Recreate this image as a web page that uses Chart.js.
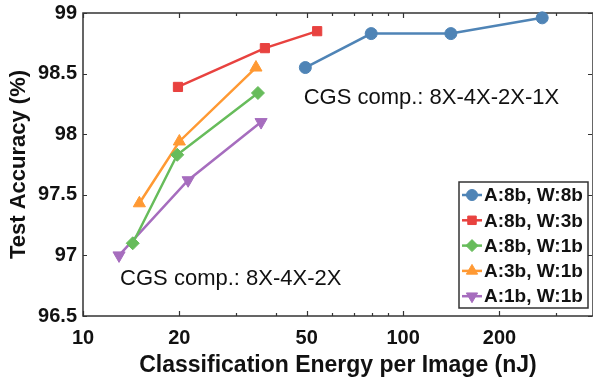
<!DOCTYPE html>
<html>
<head>
<meta charset="utf-8">
<script src="https://cdn.jsdelivr.net/npm/chart.js@4.4.1/dist/chart.umd.min.js"></script>
<style>
  html, body { margin: 0; padding: 0; background: #ffffff; }
  #wrap { width: 593px; height: 379px; position: relative; }
</style>
</head>
<body>
<div id="wrap"><canvas id="c" width="593" height="379"></canvas></div>
<script>
// ---- data ----
const seriesNames = ['A:8b, W:8b', 'A:8b, W:3b', 'A:8b, W:1b', 'A:3b, W:1b', 'A:1b, W:1b'];
const energyA8W8 = [49.5, 79.5, 141, 272];
const accA8W8    = [98.55, 98.83, 98.83, 98.96];
const energyA8W3 = [19.8, 37.0, 53.9];
const accA8W3    = [98.39, 98.71, 98.85];
const energyA8W1 = [14.3, 19.7, 35.2];
const accA8W1    = [97.10, 97.83, 98.34];
const energyA3W1 = [15.0, 20.0, 34.7];
const accA3W1    = [97.43, 97.94, 98.55];
const energyA1W1 = [12.96, 21.3, 36.0];
const accA1W1    = [97.00, 97.62, 98.10];

const xTickLabels = [10, 20, 50, 100, 200];
const xMinorTicks = [30, 40, 60, 70, 80, 90, 300];
const yTickLabels = [96.5, 97, 97.5, 98, 98.5, 99];
const xRange = [10, 392];
const yRange = [96.5, 99];

const annotationTexts = ['CGS comp.: 8X-4X-2X-1X', 'CGS comp.: 8X-4X-2X'];
const annotationAnchors = [[48.9, 98.25], [13.06, 96.755]]; // data coords (left, baseline)

const xTitle = 'Classification Energy per Image (nJ)';
const yTitle = 'Test Accuracy (%)';

// ---- styles ----
const colors = ['#4F84B6', '#E8423F', '#67BC5B', '#FF9933', '#A66DBE'];
const styles = ['circle', 'rect', 'rectRot', 'triangle', 'triangle'];
const rotations = [0, 0, 0, 0, 180];
const radii = [6, 6.5, 6.5, 7, 7];

const xs = [energyA8W8, energyA8W3, energyA8W1, energyA3W1, energyA1W1];
const ys = [accA8W8, accA8W3, accA8W1, accA3W1, accA1W1];

const datasets = seriesNames.map((name, i) => ({
  label: name,
  data: xs[i].map((x, j) => ({ x: x, y: ys[i][j] })),
  borderColor: colors[i],
  backgroundColor: colors[i],
  pointBackgroundColor: colors[i],
  pointBorderColor: colors[i],
  pointStyle: styles[i],
  pointRotation: rotations[i],
  pointRadius: radii[i],
  pointBorderWidth: 1,
  borderWidth: 2.5,
  tension: 0,
  clip: false
}));

const FONT = "'Liberation Sans', Arial, sans-serif";

function drawMarker(ctx, style, x, y, r, rot, color) {
  ctx.save();
  ctx.fillStyle = color;
  ctx.strokeStyle = color;
  ctx.lineWidth = 1;
  if (Chart.helpers && Chart.helpers.drawPoint) {
    Chart.helpers.drawPoint(ctx, { pointStyle: style, rotation: rot, radius: r, borderWidth: 1 }, x, y);
  } else {
    ctx.beginPath();
    ctx.arc(x, y, r, 0, Math.PI * 2);
    ctx.fill();
  }
  ctx.restore();
}

const framePlugin = {
  id: 'frameTicks',
  beforeDatasetsDraw(chart) {
    const { ctx, chartArea: a, scales } = chart;
    ctx.save();
    ctx.strokeStyle = '#333333';
    ctx.lineWidth = 1.5;
    ctx.strokeRect(a.left, a.top, a.right - a.left, a.bottom - a.top);
    ctx.lineWidth = 1.2;
    ctx.beginPath();
    const tickX = (v, len) => {
      const px = Math.round(scales.x.getPixelForValue(v)) + 0.5;
      ctx.moveTo(px, a.bottom); ctx.lineTo(px, a.bottom - len);
      ctx.moveTo(px, a.top); ctx.lineTo(px, a.top + len);
    };
    xTickLabels.forEach(v => tickX(v, 5));
    xMinorTicks.forEach(v => tickX(v, 3));
    yTickLabels.forEach(v => {
      const py = Math.round(scales.y.getPixelForValue(v)) + 0.5;
      ctx.moveTo(a.left, py); ctx.lineTo(a.left + 4, py);
      ctx.moveTo(a.right - 1, py); ctx.lineTo(a.right - 5, py);
    });
    ctx.stroke();
    ctx.restore();
  },
  afterDraw(chart) {
    const { ctx, chartArea: a, scales } = chart;
    ctx.save();
    // annotations
    ctx.fillStyle = '#111111';
    ctx.font = "22px " + FONT;
    ctx.textAlign = 'left';
    ctx.textBaseline = 'alphabetic';
    annotationTexts.forEach((t, i) => {
      const px = scales.x.getPixelForValue(annotationAnchors[i][0]);
      const py = scales.y.getPixelForValue(annotationAnchors[i][1]);
      ctx.fillText(t, px, py);
    });
    // legend
    const boxW = 129, boxH = 126;
    const bx = a.right - 5 - boxW, by = a.bottom - 8 - boxH;
    ctx.fillStyle = '#ffffff';
    ctx.fillRect(bx, by, boxW, boxH);
    ctx.strokeStyle = '#333333';
    ctx.lineWidth = 1.5;
    ctx.strokeRect(bx, by, boxW, boxH);
    ctx.font = "bold 19px " + FONT;
    ctx.textBaseline = 'middle';
    seriesNames.forEach((name, i) => {
      const cy = by + 13 + i * 25.3;
      ctx.strokeStyle = colors[i];
      ctx.lineWidth = 2.5;
      ctx.beginPath();
      ctx.moveTo(bx + 3, cy); ctx.lineTo(bx + 23, cy);
      ctx.stroke();
      drawMarker(ctx, styles[i], bx + 13, cy, radii[i] - 0.5, rotations[i], colors[i]);
      ctx.fillStyle = '#111111';
      ctx.fillText(name, bx + 25, cy + 1);
    });
    ctx.restore();
  }
};

const noPad = (s) => { s.paddingLeft = 0; s.paddingRight = 0; s.paddingTop = 0; s.paddingBottom = 0; };

new Chart(document.getElementById('c'), {
  type: 'line',
  data: { datasets },
  options: {
    responsive: false,
    animation: false,
    devicePixelRatio: 1,
    layout: { autoPadding: false, padding: { top: 13, right: 0, left: 0, bottom: 0 } },
    plugins: { legend: { display: false }, tooltip: { enabled: false } },
    scales: {
      x: {
        type: 'logarithmic',
        min: xRange[0], max: xRange[1],
        grid: { display: false, drawTicks: false },
        border: { display: false },
        afterBuildTicks: (s) => { s.ticks = xTickLabels.map(v => ({ value: v })); },
        afterFit: (s) => { s.height = 63; noPad(s); },
        ticks: {
          color: '#111111',
          font: { family: FONT, size: 20, weight: 'bold' },
          padding: 10,
          maxRotation: 0, autoSkip: false,
          callback: (v) => String(v)
        },
        title: {
          display: true, text: xTitle, color: '#111111',
          font: { family: FONT, size: 23, weight: 'bold' },
          padding: { top: 0, bottom: 0 }
        }
      },
      y: {
        type: 'linear',
        min: yRange[0], max: yRange[1],
        grid: { display: false, drawTicks: false },
        border: { display: false },
        afterBuildTicks: (s) => { s.ticks = yTickLabels.map(v => ({ value: v })); },
        afterFit: (s) => { s.width = 83; noPad(s); },
        ticks: {
          color: '#111111',
          font: { family: FONT, size: 20, weight: 'bold' },
          padding: 6,
          callback: (v) => String(v)
        },
        title: {
          display: true, text: yTitle, color: '#111111',
          font: { family: FONT, size: 22, weight: 'bold' },
          padding: { top: 6, bottom: 0 }
        }
      }
    }
  },
  plugins: [framePlugin]
});
</script>
</body>
</html>
